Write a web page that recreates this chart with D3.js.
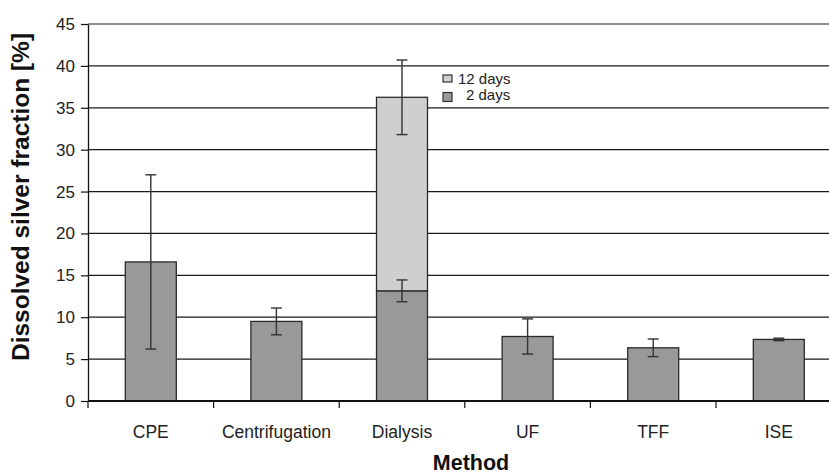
<!DOCTYPE html>
<html>
<head>
<meta charset="utf-8">
<script src="https://cdn.jsdelivr.net/npm/d3@7"></script>
<style>
  body { margin: 0; background: #fff; }
  text { font-family: "Liberation Sans", Arial, sans-serif; }
</style>
</head>
<body>
<div id="container"></div>
<script>
const methods = ["CPE", "Centrifugation", "Dialysis", "UF", "TFF", "ISE"];
const twoDays = [16.6, 9.5, 13.15, 7.7, 6.35, 7.35];
const twoDaysErr = [10.4, 1.6, 1.3, 2.1, 1.05, 0.15];
// 12 days only measured for dialysis (stacked total)
const twelveDays = [null, null, 36.25, null, null, null];
const twelveDaysErr = [null, null, 4.45, null, null, null];
const yTicks = [0, 5, 10, 15, 20, 25, 30, 35, 40, 45];
const legendLabels = ["12 days", "2 days"];

const W = 829, H = 476;
const margin = {top: 24, left: 88, bottom: 75};
const plotRight = 841.6;   // plot runs past the right edge of the picture
const y0 = H - margin.bottom; // 401

const svg = d3.select("#container").append("svg")
    .attr("width", W).attr("height", H);
svg.append("rect").attr("width", W).attr("height", H).attr("fill", "#fff");

const x = d3.scaleBand().domain(methods).range([margin.left, plotRight]);
const y = d3.scaleLinear().domain([0, 45]).range([y0, margin.top]);
const barW = x.bandwidth() * 0.406;
const cx = d => x(d) + x.bandwidth() / 2;

// gridlines
svg.append("g").selectAll("line").data(yTicks.filter(t => t > 0)).join("line")
    .attr("x1", margin.left).attr("x2", W)
    .attr("y1", d => y(d)).attr("y2", d => y(d))
    .attr("stroke", "#1a1a1a").attr("stroke-width", 1.2);

// y axis
const yAxis = svg.append("g").attr("transform", `translate(${margin.left},0)`)
    .call(d3.axisLeft(y).tickValues(yTicks).tickSize(7).tickPadding(6).tickSizeOuter(0));
yAxis.select(".domain").attr("stroke", "#111").attr("stroke-width", 1.3);
yAxis.selectAll(".tick line").attr("stroke", "#111").attr("stroke-width", 1.2);
yAxis.selectAll("text").style("font-size", "17px").attr("fill", "#222")
    .attr("font-family", "Liberation Sans, Arial, sans-serif");

// bars: 2 days
svg.append("g").selectAll("rect").data(methods).join("rect")
    .attr("x", d => cx(d) - barW / 2)
    .attr("width", barW)
    .attr("y", (d, i) => y(twoDays[i]))
    .attr("height", (d, i) => y0 - y(twoDays[i]))
    .attr("fill", "#999999").attr("stroke", "#2a2a2a").attr("stroke-width", 1.3);

// bars: 12 days stacked on top
const idx12 = methods.map((d, i) => i).filter(i => twelveDays[i] != null);
svg.append("g").selectAll("rect").data(idx12).join("rect")
    .attr("x", i => cx(methods[i]) - barW / 2)
    .attr("width", barW)
    .attr("y", i => y(twelveDays[i]))
    .attr("height", i => y(twoDays[i]) - y(twelveDays[i]))
    .attr("fill", "#cfcfcf").attr("stroke", "#2a2a2a").attr("stroke-width", 1.3);

// x axis line + ticks at band edges
svg.append("line").attr("x1", margin.left).attr("x2", W).attr("y1", y0).attr("y2", y0)
    .attr("stroke", "#111").attr("stroke-width", 2);
svg.append("g").selectAll("line").data(methods).join("line")
    .attr("x1", d => x(d)).attr("x2", d => x(d))
    .attr("y1", y0).attr("y2", y0 + 7)
    .attr("stroke", "#111").attr("stroke-width", 1.2);
svg.append("g").selectAll("text").data(methods).join("text")
    .attr("x", d => cx(d)).attr("y", 438)
    .attr("text-anchor", "middle").style("font-size", "17.5px").attr("fill", "#222")
    .text(d => d);

// error bars
function errBars(vals, errs) {
  const ids = methods.map((d, i) => i).filter(i => vals[i] != null);
  const g = svg.append("g").attr("stroke", "#333").attr("stroke-width", 1.4);
  ids.forEach(i => {
    const c = cx(methods[i]);
    const top = y(vals[i] + errs[i]), bot = y(vals[i] - errs[i]);
    g.append("line").attr("x1", c).attr("x2", c).attr("y1", top).attr("y2", bot);
    g.append("line").attr("x1", c - 5.5).attr("x2", c + 5.5).attr("y1", top).attr("y2", top);
    g.append("line").attr("x1", c - 5.5).attr("x2", c + 5.5).attr("y1", bot).attr("y2", bot);
  });
}
errBars(twoDays, twoDaysErr);
errBars(twelveDays, twelveDaysErr);

// legend
const legend = svg.append("g");
legend.append("rect").attr("x", 443).attr("y", 75).attr("width", 9).attr("height", 7)
    .attr("fill", "#cfcfcf").attr("stroke", "#333").attr("stroke-width", 1.2);
legend.append("rect").attr("x", 443).attr("y", 92.5).attr("width", 9).attr("height", 9)
    .attr("fill", "#999999").attr("stroke", "#333").attr("stroke-width", 1.2);
legend.append("text").attr("x", 458).attr("y", 84).style("font-size", "15px").attr("fill", "#222")
    .text(legendLabels[0]);
legend.append("text").attr("x", 466).attr("y", 100).style("font-size", "15px").attr("fill", "#222")
    .text(legendLabels[1]);

// axis titles
svg.append("text").attr("x", 471).attr("y", 470).attr("text-anchor", "middle")
    .style("font-size", "21.5px").style("font-weight", "bold").attr("fill", "#111")
    .text("Method");
svg.append("text").attr("transform", "translate(29,197) rotate(-90)").attr("text-anchor", "middle")
    .style("font-size", "24.5px").style("font-weight", "bold").attr("fill", "#111")
    .text("Dissolved silver fraction [%]");
</script>
</body>
</html>
